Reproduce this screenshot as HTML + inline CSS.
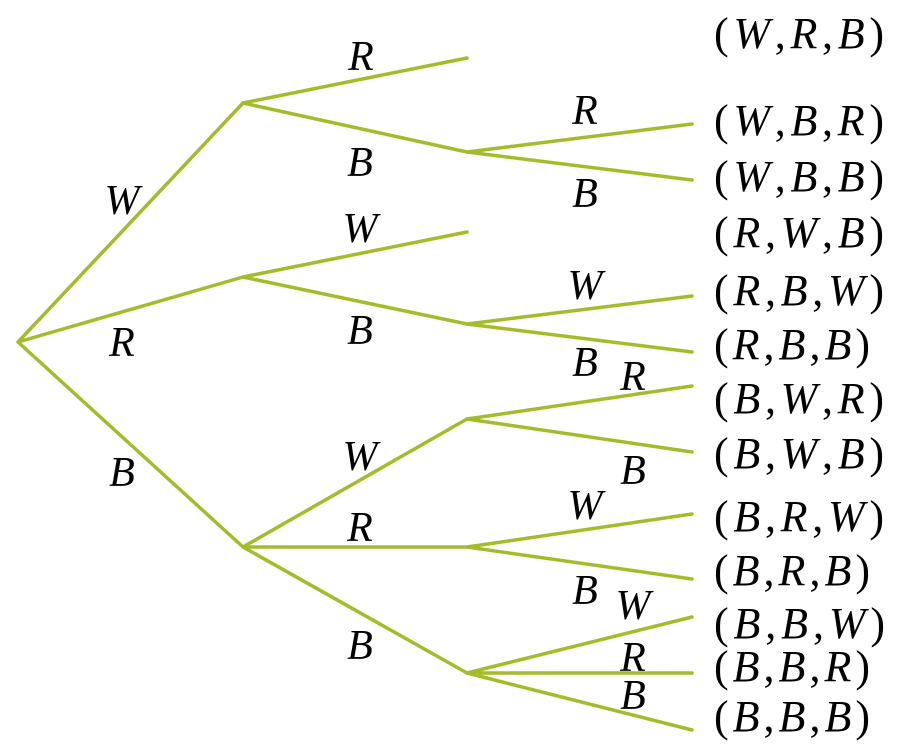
<!DOCTYPE html>
<html><head><meta charset="utf-8"><style>
html,body{margin:0;padding:0;background:#fff;}
svg{display:block;}
text{font-family:"Liberation Serif",serif;font-size:44px;fill:#000;}
.l{font-style:italic;text-anchor:middle;font-size:42px;}
</style></head><body>
<svg width="916" height="752" viewBox="0 0 916 752" xmlns="http://www.w3.org/2000/svg">
<g stroke="#a4bc2c" stroke-width="3.5" fill="none" stroke-linecap="round">
<path d="M18 342L243 103M18 342L243 277M18 342L243 547"/>
<path d="M243 103L467 58M243 103L467 152M467 152L692 124M467 152L692 180"/>
<path d="M243 277L467 232M243 277L467 324M467 324L692 296M467 324L692 352"/>
<path d="M243 547L467 419M243 547L467 547M243 547L467 673"/>
<path d="M467 419L692 386M467 419L692 452M467 547L692 514M467 547L692 579"/>
<path d="M467 673L692 617M467 673L692 673M467 673L692 730"/>
</g>
<g>
<text class="l" x="361" y="70">R</text>
<text class="l" x="360" y="176">B</text>
<text class="l" x="122" y="214">W</text>
<text class="l" x="585" y="124">R</text>
<text class="l" x="585" y="207">B</text>
<text class="l" x="360" y="242">W</text>
<text class="l" x="122" y="356">R</text>
<text class="l" x="360" y="344">B</text>
<text class="l" x="585" y="299">W</text>
<text class="l" x="585" y="376">B</text>
<text class="l" x="633" y="390">R</text>
<text class="l" x="122" y="486">B</text>
<text class="l" x="360" y="470">W</text>
<text class="l" x="633" y="484">B</text>
<text class="l" x="360" y="541">R</text>
<text class="l" x="585" y="519">W</text>
<text class="l" x="585" y="604">B</text>
<text class="l" x="633" y="619">W</text>
<text class="l" x="633" y="671">R</text>
<text class="l" x="633" y="709">B</text>
<text class="l" x="360" y="659">B</text>
</g>
<g>
<text x="714" y="48" textLength="170" lengthAdjust="spacing">(<tspan font-style="italic">W</tspan>,<tspan font-style="italic">R</tspan>,<tspan font-style="italic">B</tspan>)</text>
<text x="714" y="135" textLength="170" lengthAdjust="spacing">(<tspan font-style="italic">W</tspan>,<tspan font-style="italic">B</tspan>,<tspan font-style="italic">R</tspan>)</text>
<text x="714" y="191" textLength="170" lengthAdjust="spacing">(<tspan font-style="italic">W</tspan>,<tspan font-style="italic">B</tspan>,<tspan font-style="italic">B</tspan>)</text>
<text x="714" y="247" textLength="170" lengthAdjust="spacing">(<tspan font-style="italic">R</tspan>,<tspan font-style="italic">W</tspan>,<tspan font-style="italic">B</tspan>)</text>
<text x="714" y="305" textLength="170" lengthAdjust="spacing">(<tspan font-style="italic">R</tspan>,<tspan font-style="italic">B</tspan>,<tspan font-style="italic">W</tspan>)</text>
<text x="714" y="359" textLength="156" lengthAdjust="spacing">(<tspan font-style="italic">R</tspan>,<tspan font-style="italic">B</tspan>,<tspan font-style="italic">B</tspan>)</text>
<text x="714" y="413" textLength="170" lengthAdjust="spacing">(<tspan font-style="italic">B</tspan>,<tspan font-style="italic">W</tspan>,<tspan font-style="italic">R</tspan>)</text>
<text x="714" y="468" textLength="170" lengthAdjust="spacing">(<tspan font-style="italic">B</tspan>,<tspan font-style="italic">W</tspan>,<tspan font-style="italic">B</tspan>)</text>
<text x="714" y="531" textLength="170" lengthAdjust="spacing">(<tspan font-style="italic">B</tspan>,<tspan font-style="italic">R</tspan>,<tspan font-style="italic">W</tspan>)</text>
<text x="714" y="585" textLength="156" lengthAdjust="spacing">(<tspan font-style="italic">B</tspan>,<tspan font-style="italic">R</tspan>,<tspan font-style="italic">B</tspan>)</text>
<text x="714" y="638" textLength="171" lengthAdjust="spacing">(<tspan font-style="italic">B</tspan>,<tspan font-style="italic">B</tspan>,<tspan font-style="italic">W</tspan>)</text>
<text x="714" y="681" textLength="156" lengthAdjust="spacing">(<tspan font-style="italic">B</tspan>,<tspan font-style="italic">B</tspan>,<tspan font-style="italic">R</tspan>)</text>
<text x="714" y="731" textLength="156" lengthAdjust="spacing">(<tspan font-style="italic">B</tspan>,<tspan font-style="italic">B</tspan>,<tspan font-style="italic">B</tspan>)</text>
</g>
</svg>
</body></html>
